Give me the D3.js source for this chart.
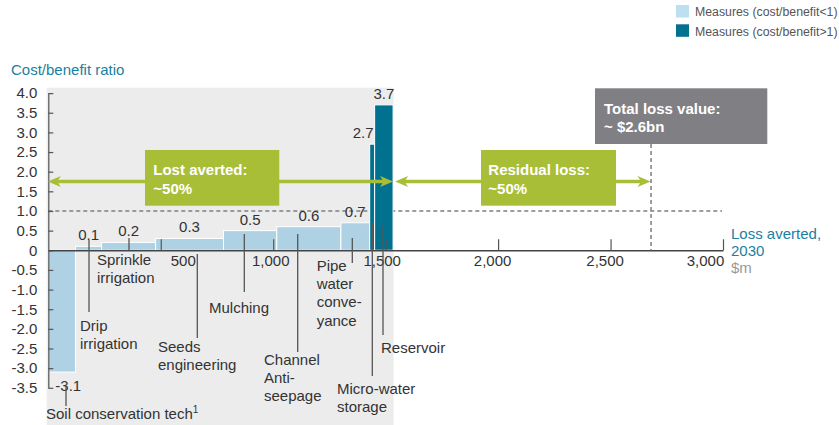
<!DOCTYPE html>
<html>
<head>
<meta charset="utf-8">
<script src="https://cdn.jsdelivr.net/npm/d3@7"></script>
<style>
  html, body { margin: 0; padding: 0; background: #fff; }
  svg { display: block; font-family: "Liberation Sans", Arial, sans-serif; }
</style>
</head>
<body>
<svg id="chart" width="839" height="425"></svg>
<script>
// ---------- data ----------
const categories = ["Soil conservation tech", "Drip irrigation", "Sprinkle irrigation", "Seeds engineering",
  "Mulching", "Channel Anti-seepage", "Pipe water conveyance", "Micro-water storage", "Reservoir"];
const lossAverted = [121, 116, 240, 302, 237, 285, 128, 22, 82];      // width, $m
const costBenefit = [-3.1, 0.1, 0.2, 0.3, 0.5, 0.6, 0.7, 2.7, 3.7];   // ratio
const xTickValues = [500, 1000, 1500, 2000, 2500, 3000];
const yTickValues = [-3.5, -3.0, -2.5, -2.0, -1.5, -1.0, -0.5, 0, 0.5, 1.0, 1.5, 2.0, 2.5, 3.0, 3.5, 4.0];
const totalLossValue = 2680;   // $m, "~ $2.6bn"
const thresholdRatio = 1.0;
const legendLabels = ["Measures (cost/benefit<1)", "Measures (cost/benefit>1)"];

// ---------- layout (annotation placement, px) ----------
const xTickLabelShift = [22, -3, -4, -6, -6, -18];
const labelLayout = [
  { lines: ["Soil conservation tech"], sup: "1", tx: 46, ty: 419, lx: 66, ly1: 387, ly2: 406 },
  { lines: ["Drip", "irrigation"], tx: 80, ty: 331, lx: 89, ly1: 240, ly2: 312 },
  { lines: ["Sprinkle", "irrigation"], tx: 97, ty: 264.5, lx: 129, ly1: 238, ly2: 250 },
  { lines: ["Seeds", "engineering"], tx: 158, ty: 351.5, lx: 197.3, ly1: 254, ly2: 338 },
  { lines: ["Mulching"], tx: 209, ty: 312.5, lx: 244.3, ly1: 234, ly2: 292 },
  { lines: ["Channel", "Anti-", "seepage"], tx: 264, ty: 364.5, lx: 297.7, ly1: 234, ly2: 352 },
  { lines: ["Pipe", "water", "conve-", "yance"], tx: 316.7, ty: 270.5, lx: 352.3, ly1: 238, ly2: 263 },
  { lines: ["Micro-water", "storage"], tx: 337, ty: 393.5, lx: 372.3, ly1: 223, ly2: 376 },
  { lines: ["Reservoir"], tx: 381, ty: 352.5, lx: 383, ly1: 225, ly2: 335 }
];
const lineH = 18.4;

const colLight = "#aed2e3";
const colDark = "#00718f";
const colGreen = "#a9be37";
const colTeal = "#1b7fa0";
const colText = "#333";

const svg = d3.select("#chart");
const x = d3.scaleLinear().domain([0, 3000]).range([48.3, 723]);
const y = d3.scaleLinear().domain([-3.5, 4]).range([387.8, 93.1]);

// cumulative positions
let acc = 0;
const bars = categories.map((c, i) => {
  const d = { name: c, x0: acc, x1: acc + lossAverted[i], v: costBenefit[i] };
  acc += lossAverted[i];
  return d;
});

// grey background panel
svg.append("rect").attr("x", 46.7).attr("y", 87.7)
  .attr("width", x(acc) - 46.7 + 0.5).attr("height", 340).attr("fill", "#ececec");

// threshold dashed line
svg.append("line").attr("x1", x(0)).attr("x2", 722)
  .attr("y1", y(thresholdRatio)).attr("y2", y(thresholdRatio))
  .attr("stroke", "#7f7f7f").attr("stroke-width", 1.5).attr("stroke-dasharray", "4,3");

// bars
svg.append("g").selectAll("rect").data(bars).join("rect")
  .attr("x", d => x(d.x0))
  .attr("width", d => x(d.x1) - x(d.x0))
  .attr("y", d => y(Math.max(0, d.v)))
  .attr("height", d => Math.abs(y(d.v) - y(0)))
  .attr("fill", d => d.v > 1 ? colDark : colLight)
  .attr("stroke", "#fff").attr("stroke-width", 1);

// value labels
svg.append("g").selectAll("text").data(bars).join("text")
  .attr("x", d => {
    const w = x(d.x1) - x(d.x0);
    if (d.v < 0) return x(d.x0) + 7;
    if (w < 10) return x(d.x1) - 1;
    return (x(d.x0) + x(d.x1)) / 2;
  })
  .attr("y", d => d.v < 0 ? y(d.v) + 19 : y(d.v) - 6)
  .attr("text-anchor", d => {
    const w = x(d.x1) - x(d.x0);
    if (d.v < 0) return "start";
    if (w < 10) return "end";
    return "middle";
  })
  .attr("font-size", 15).attr("fill", colText)
  .text(d => d.v.toFixed(1));

// y axis
const yAxis = d3.axisLeft(y).tickValues(yTickValues)
  .tickFormat(d => d === 0 ? "0" : d.toFixed(1))
  .tickSizeInner(-5).tickSizeOuter(0).tickPadding(11);
const gy = svg.append("g").attr("transform", `translate(${x(0)},0)`).call(yAxis);
gy.select(".domain").attr("stroke", "#555").attr("stroke-width", 1.2);
gy.selectAll(".tick line").attr("stroke", "#555").attr("stroke-width", 1.2);
gy.selectAll(".tick text").attr("font-size", 15).attr("fill", colText)
  .attr("font-family", "Liberation Sans, Arial, sans-serif");

// x axis
const xAxis = d3.axisBottom(x).tickValues(xTickValues).tickFormat(d3.format(","))
  .tickSizeInner(-11).tickSizeOuter(0).tickPadding(5);
const gx = svg.append("g").attr("transform", `translate(0,${y(0)})`).call(xAxis);
gx.select(".domain").attr("stroke", "#444").attr("stroke-width", 1.5);
gx.selectAll(".tick line").attr("stroke", "#555").attr("stroke-width", 1.2);
gx.selectAll(".tick text").attr("font-size", 15).attr("fill", colText)
  .attr("font-family", "Liberation Sans, Arial, sans-serif")
  .attr("dx", (d, i) => xTickLabelShift[i]);

// leader lines and category labels
const lg = svg.append("g");
labelLayout.forEach(l => {
  lg.append("line").attr("x1", l.lx).attr("x2", l.lx).attr("y1", l.ly1).attr("y2", l.ly2)
    .attr("stroke", "#555").attr("stroke-width", 1.3);
  const t = lg.append("text").attr("font-size", 15).attr("fill", colText);
  l.lines.forEach((s, j) => {
    t.append("tspan").attr("x", l.tx).attr("y", l.ty + j * lineH).text(s);
  });
  if (l.sup) t.append("tspan").attr("font-size", 10).attr("dy", -6).text(l.sup);
});

// arrows
const arrowY = 181.5;
function arrowHead(tipX, dir) {
  const p = d3.path();
  p.moveTo(tipX, arrowY);
  p.lineTo(tipX - dir * 13, arrowY - 5.5);
  p.lineTo(tipX - dir * 9.5, arrowY);
  p.lineTo(tipX - dir * 13, arrowY + 5.5);
  p.closePath();
  svg.append("path").attr("d", p.toString()).attr("fill", colGreen);
}
function arrowLine(a, b) {
  svg.append("line").attr("x1", a + 8).attr("x2", b - 8).attr("y1", arrowY).attr("y2", arrowY)
    .attr("stroke", colGreen).attr("stroke-width", 3.5);
  arrowHead(a, -1);
  arrowHead(b, 1);
}
arrowLine(x(0) - 0.5, x(acc));
arrowLine(x(acc) + 2, x(totalLossValue) - 0.5);

// total loss dashed vertical
svg.append("line").attr("x1", x(totalLossValue)).attr("x2", x(totalLossValue))
  .attr("y1", 144).attr("y2", y(0))
  .attr("stroke", "#7f7f7f").attr("stroke-width", 1.5).attr("stroke-dasharray", "4,3");

// annotation boxes
function box(x0, y0, w, h, fill, lines, tx) {
  svg.append("rect").attr("x", x0).attr("y", y0).attr("width", w).attr("height", h).attr("fill", fill);
  const t = svg.append("text").attr("font-size", 15).attr("font-weight", "bold").attr("fill", "#fff");
  lines.forEach((s, j) => t.append("tspan").attr("x", tx).attr("y", y0 + 24.5 + j * 19).text(s));
}
box(145, 150, 134.3, 55.7, colGreen, ["Lost averted:", "~50%"], 153.3);
box(481, 150, 135, 55.7, colGreen, ["Residual loss:", "~50%"], 488.3);
svg.append("rect").attr("x", 595).attr("y", 88.3).attr("width", 172.3).attr("height", 55.7).attr("fill", "#808084");
const tt = svg.append("text").attr("font-size", 15).attr("font-weight", "bold").attr("fill", "#fff");
tt.append("tspan").attr("x", 604).attr("y", 113.5).text("Total loss value:");
tt.append("tspan").attr("x", 604).attr("y", 131.5).text("~ $2.6bn");

// axis titles
svg.append("text").attr("x", 11).attr("y", 74.5).attr("font-size", 15).attr("fill", colTeal).text("Cost/benefit ratio");
const xt = svg.append("text").attr("font-size", 15);
xt.append("tspan").attr("x", 731).attr("y", 238.5).attr("fill", colTeal).text("Loss averted,");
xt.append("tspan").attr("x", 731).attr("y", 255.5).attr("fill", colTeal).text("2030");
xt.append("tspan").attr("x", 731).attr("y", 272.5).attr("fill", "#999").text("$m");

// legend
const legColors = [colLight, colDark];
const leg = svg.append("g");
legendLabels.forEach((s, i) => {
  leg.append("rect").attr("x", 676).attr("y", 5 + i * 19.3).attr("width", 13).attr("height", 12.5)
    .attr("fill", i === 0 ? "#bcdff2" : legColors[i]);
  leg.append("text").attr("x", 695).attr("y", 16.3 + i * 19.3).attr("font-size", 12.3).attr("fill", "#555").text(s);
});
</script>
</body>
</html>
